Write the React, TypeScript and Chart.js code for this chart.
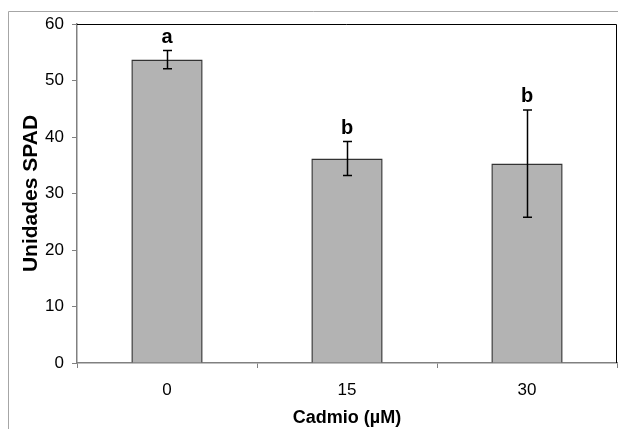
import React, { useEffect, useRef } from "react";
import { Chart, registerables } from "chart.js";

Chart.register(...registerables);

const categories = ["0", "15", "30"];
const meanValues = [53.7, 36.2, 35.3];
const errorValues = [1.6, 3.0, 9.5];
const groupLetters = ["a", "b", "b"];
const yTickValues = [0, 10, 20, 30, 40, 50, 60];

const framePlugin = {
  id: "frame",
  beforeDraw(chart: any) {
    const ctx = chart.ctx;
    ctx.save();
    ctx.strokeStyle = "#a6a6a6";
    ctx.lineWidth = 1;
    ctx.beginPath();
    ctx.moveTo(8.5, chart.height);
    ctx.lineTo(8.5, 11.5);
    ctx.lineTo(chart.width, 11.5);
    ctx.stroke();
    ctx.restore();
  },
  afterDraw(chart: any) {
    const { ctx, chartArea } = chart;
    ctx.save();
    ctx.strokeStyle = "#000";
    ctx.lineWidth = 1;
    ctx.beginPath();
    ctx.moveTo(chartArea.left, chartArea.top + 0.5);
    ctx.lineTo(chartArea.right - 0.5, chartArea.top + 0.5);
    ctx.lineTo(chartArea.right - 0.5, chartArea.bottom);
    ctx.stroke();
    ctx.restore();
  },
};

const errorBarPlugin = {
  id: "errorBars",
  afterDatasetsDraw(chart: any) {
    const ctx = chart.ctx;
    const meta = chart.getDatasetMeta(0);
    const y = chart.scales.y;
    ctx.save();
    ctx.strokeStyle = "#000";
    ctx.lineWidth = 1.5;
    meta.data.forEach((bar: any, i: number) => {
      const x = Math.round(bar.x) + 0.5;
      const top = y.getPixelForValue(meanValues[i] + errorValues[i]);
      const bottom = y.getPixelForValue(meanValues[i] - errorValues[i]);
      ctx.beginPath();
      ctx.moveTo(x, top);
      ctx.lineTo(x, bottom);
      ctx.moveTo(x - 4.5, top);
      ctx.lineTo(x + 4.5, top);
      ctx.moveTo(x - 4.5, bottom);
      ctx.lineTo(x + 4.5, bottom);
      ctx.stroke();
      ctx.fillStyle = "#000";
      ctx.font = "bold 20px 'Liberation Sans', Arial, sans-serif";
      ctx.textAlign = "center";
      ctx.textBaseline = "alphabetic";
      ctx.fillText(groupLetters[i], bar.x, top - 8);
    });
    ctx.restore();
  },
};

export default function App() {
  const ref = useRef<HTMLCanvasElement>(null);
  useEffect(() => {
    const prevMargin = document.body.style.margin;
    document.body.style.margin = "0";
    const chart = new Chart(ref.current!, {
      type: "bar",
      data: {
        labels: categories,
        datasets: [
          {
            data: meanValues,
            backgroundColor: "#b3b3b3",
            borderColor: "#333333",
            borderWidth: 1.5,
            barPercentage: 0.396,
            categoryPercentage: 1,
          },
        ],
      },
      options: {
        responsive: false,
        animation: false,
        layout: { padding: { left: 0, right: 1, top: 24, bottom: 0 } },
        plugins: {
          legend: { display: false },
          tooltip: { enabled: false },
        },
        scales: {
          x: {
            offset: true,
            grid: {
              offset: true,
              drawOnChartArea: false,
              drawTicks: true,
              tickLength: 5,
              color: "#808080",
            },
            border: { color: "#808080", width: 1.5 },
            ticks: {
              color: "#000",
              padding: 12,
              font: { family: "'Liberation Sans', Arial, sans-serif", size: 17 },
            },
            title: {
              display: true,
              text: "Cadmio (µM)",
              color: "#000",
              padding: { top: 0, bottom: 0 },
              font: { family: "'Liberation Sans', Arial, sans-serif", size: 18, weight: "bold" },
            },
            afterFit: (scale: any) => {
              scale.height = 66;
            },
          },
          y: {
            min: 0,
            max: 60,
            afterBuildTicks: (scale: any) => {
              scale.ticks = yTickValues.map((v) => ({ value: v }));
            },
            grid: {
              drawOnChartArea: false,
              drawTicks: true,
              tickLength: 5,
              color: "#808080",
            },
            border: { color: "#808080", width: 1.5 },
            ticks: {
              color: "#000",
              padding: 8,
              font: { family: "'Liberation Sans', Arial, sans-serif", size: 17 },
            },
            title: {
              display: true,
              text: "Unidades SPAD",
              color: "#000",
              padding: { top: 19, bottom: 0 },
              font: { family: "'Liberation Sans', Arial, sans-serif", size: 21, weight: "bold" },
            },
            afterFit: (scale: any) => {
              scale.width = 77;
            },
          },
        },
      },
      plugins: [framePlugin, errorBarPlugin],
    });
    return () => {
      chart.destroy();
      document.body.style.margin = prevMargin;
    };
  }, []);
  return (
    <canvas
      ref={ref}
      width={618}
      height={429}
      style={{ display: "block", width: 618, height: 429 }}
    />
  );
}
